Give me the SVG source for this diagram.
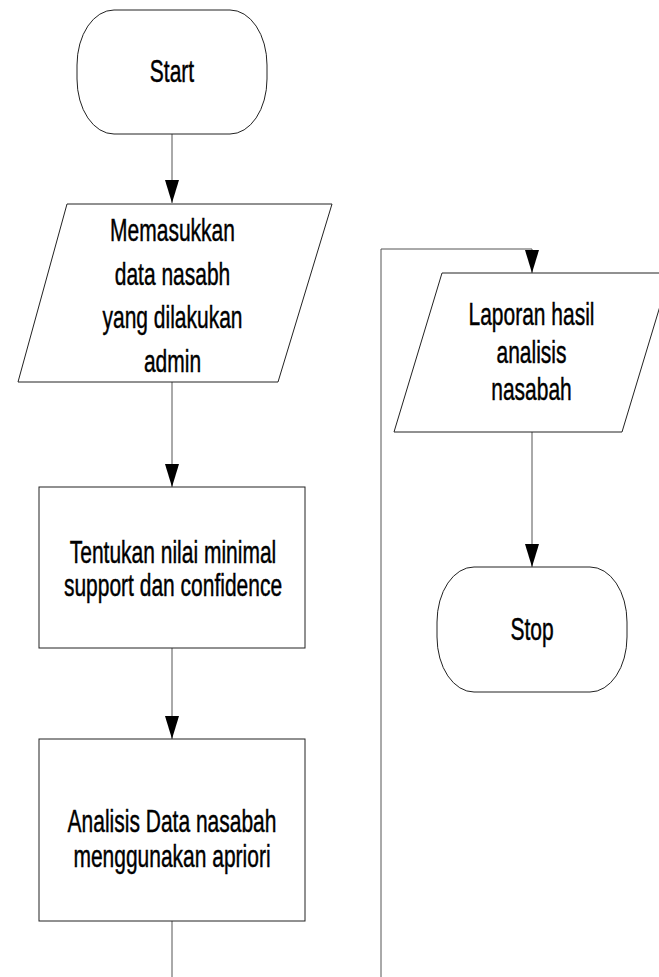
<svg xmlns="http://www.w3.org/2000/svg" width="659" height="977" viewBox="0 0 659 977">
  <style>
    .shape { fill: #ffffff; stroke: #222222; stroke-width: 1; }
    .conn { fill: none; stroke: #555555; stroke-width: 1; }
    .label { font-family: "Liberation Sans", Arial, sans-serif; font-size: 21px; fill: #000000; stroke: #000000; stroke-width: 0.3; text-anchor: middle; }
  </style>
  <defs>
    <marker id="arrow" markerUnits="userSpaceOnUse" markerWidth="23" markerHeight="14" refX="23" refY="7" orient="auto" viewBox="0 0 23 14">
      <path d="M0 0 L23 7 L0 14 Z" fill="#000000"/>
    </marker>
  </defs>
  <rect width="659" height="977" fill="#ffffff"/>

  <!-- connectors -->
  <g id="connectors">
    <path class="conn" d="M172 134 V203" marker-end="url(#arrow)"/>
    <path class="conn" d="M172 382 V487" marker-end="url(#arrow)"/>
    <path class="conn" d="M172 648 V739" marker-end="url(#arrow)"/>
    <path class="conn" d="M172 921 V1000 H381 V249 H532 V273" marker-end="url(#arrow)"/>
    <path class="conn" d="M532 432 V567" marker-end="url(#arrow)"/>
  </g>

  <g id="start">
    <rect class="shape" x="77" y="10" width="190" height="124" rx="37" ry="55"/>
    <text class="label" transform="translate(172,81.5) scale(1,1.46)">Start</text>
  </g>

  <g id="input-data">
    <polygon class="shape" points="67,204 332,204 278,382 18,382"/>
    <text class="label" transform="translate(172.5,241) scale(1,1.46)">Memasukkan</text>
    <text class="label" transform="translate(172.5,284.5) scale(1,1.46)">data nasabh</text>
    <text class="label" transform="translate(172.5,328) scale(1,1.46)">yang dilakukan</text>
    <text class="label" transform="translate(172.5,371.5) scale(1,1.46)">admin</text>
  </g>

  <g id="set-threshold">
    <rect class="shape" x="39" y="487" width="266" height="161"/>
    <text class="label" transform="translate(173,563) scale(1,1.46)">Tentukan nilai minimal</text>
    <text class="label" transform="translate(173,596) scale(1,1.46)">support dan confidence</text>
  </g>

  <g id="analysis">
    <rect class="shape" x="39" y="739" width="266" height="182"/>
    <text class="label" transform="translate(172,831.5) scale(1,1.46)">Analisis Data nasabah</text>
    <text class="label" transform="translate(172,866.5) scale(1,1.46)">menggunakan apriori</text>
  </g>

  <g id="report">
    <polygon class="shape" points="442,273 670,273 622,432 394,432"/>
    <text class="label" transform="translate(531.5,325) scale(1,1.46)">Laporan hasil</text>
    <text class="label" transform="translate(531.5,362.5) scale(1,1.46)">analisis</text>
    <text class="label" transform="translate(531.5,400) scale(1,1.46)">nasabah</text>
  </g>

  <g id="stop">
    <rect class="shape" x="437" y="567" width="190" height="125" rx="37" ry="55"/>
    <text class="label" transform="translate(532,640) scale(1,1.46)">Stop</text>
  </g>
</svg>
